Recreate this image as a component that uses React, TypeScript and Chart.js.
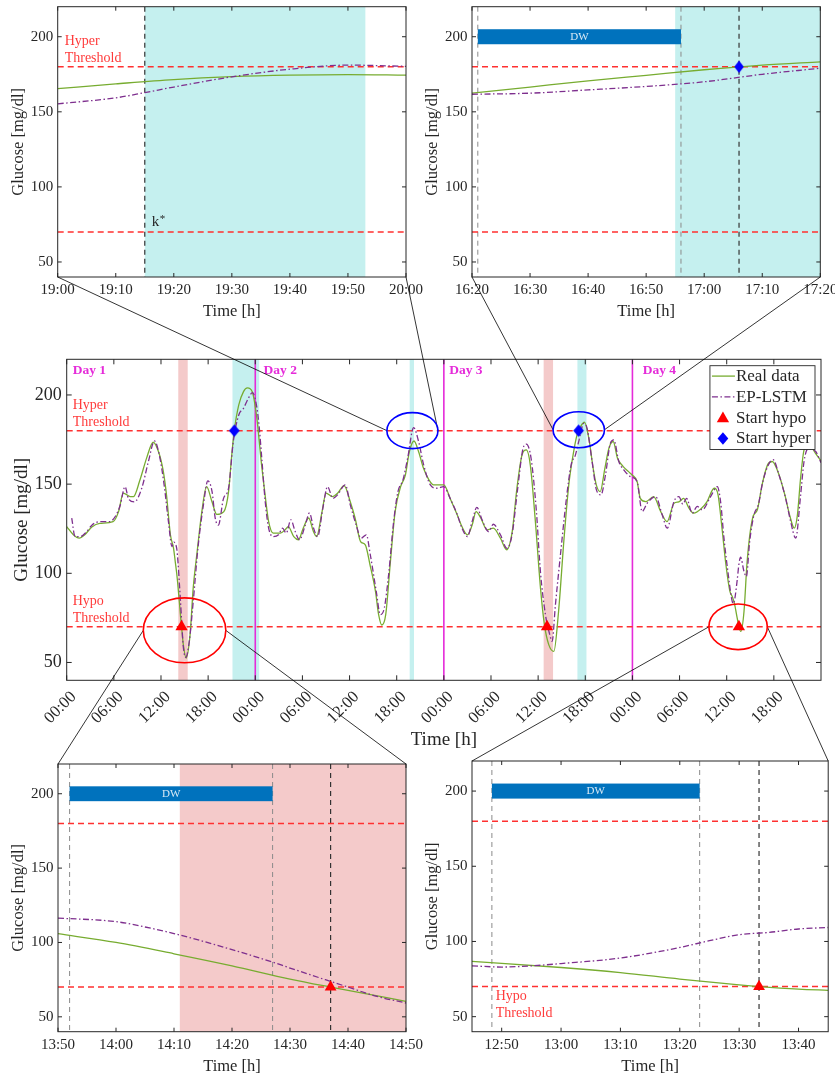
import React, { useEffect, useRef } from "react";
import { Chart, registerables } from "chart.js";

Chart.register(...registerables);

const PAGE_W = 835;
const PAGE_H = 1079;
const SERIF = "'Liberation Serif', 'DejaVu Serif', serif";
const INK = "#262626";
const GREEN = "#77AC30";
const PURPLE = "#7E2F8E";
const RED = "#FF0000";
const THRESH = "#FF3030";
const THRESH_TEXT = "#FF3B3B";
const BLUE = "#0000FF";
const MAGENTA = "#E52BD9";
const CYAN_BAND = "#C5F0EF";
const RED_BAND = "#F4CACA";
const DW_BLUE = "#0072BD";

const HYPER_THRESHOLD = 180;
const HYPO_THRESHOLD = 70;
const GLUCOSE_MIN = 40;
const GLUCOSE_MAX = 220;
const GLUCOSE_TICKS = [50, 100, 150, 200];
const DW_BAR = [195, 205];

// ---- Four-day overview (hours since 00:00 of day 1) ----
const realHours = [
  0, 0.85, 1.6, 2.3, 3.2, 4.2, 5.9, 6.6, 7.2, 8.1, 8.5, 9.3, 10.2, 11.0, 11.7, 12.3, 12.7, 13.2, 13.6,
  13.83, 14.0, 14.17, 14.33, 14.5, 14.62, 14.83, 15.2, 15.7, 16.1, 16.6, 17.2, 17.8, 18.5, 19.1, 20.0,
  20.6, 21.0, 21.33, 21.9, 22.5, 23.0, 23.6, 24.2, 24.8, 25.3, 25.7, 26.3, 27.2, 27.8, 28.2, 28.9, 29.5,
  30.1, 30.8, 31.4, 31.8, 32.5, 33.0, 33.8, 34.5, 35.3, 36.1, 36.7, 37.4, 38.0, 38.6, 39.3, 39.7, 40.1,
  40.6, 41.2, 41.8, 42.5, 43.1, 43.6, 44.2, 44.8, 45.4, 46.1, 46.7, 48.0, 48.8, 49.7, 50.3, 51.0, 51.6,
  52.1, 52.7, 53.5, 54.3, 55.2, 56.0, 56.7, 57.3, 57.95, 58.5, 59.0, 59.65, 60.3, 60.8, 61.35, 62.0,
  62.6, 63.3, 63.9, 64.45, 64.95, 65.4, 65.9, 66.45, 67.0, 67.4, 67.9, 68.5, 69.0, 69.55, 70.1, 70.8,
  71.5, 72.0, 72.6, 73.0, 73.7, 74.7, 75.6, 76.4, 77.3, 77.9, 78.5, 79.2, 79.8, 80.7, 81.5, 82.4, 82.9,
  83.4, 83.9, 84.4, 84.75, 85.0, 85.33, 85.55, 85.8, 86.2, 86.6, 87.3, 87.9, 88.5, 89.2, 89.8, 90.6,
  91.4, 92.0, 92.6, 93.0, 93.4, 93.8, 94.3, 95.3, 96.0,
];
const realGlucose = [
  126.2, 121.6, 119.7, 121.6, 126, 128, 129, 134.6, 145, 143, 143, 152, 165, 173.5, 168, 157, 144, 121.6, 114,
  106, 100, 92.4, 84.3, 75.4, 70, 60.4, 52.5, 65.5, 91.7, 112, 134.6, 148.6, 140, 133, 134.6,
  145.8, 166, 180, 194.4, 201.9, 204, 202, 187, 160.8, 142, 129, 122.5, 122.5, 124.4, 126.2, 120.6, 118.8,
  125.3, 131, 123.4, 120.6, 134.6, 145, 143, 145, 149.2, 140, 131, 117.8, 116, 104.8, 89.8, 76.8, 71,
  76.8, 106.6, 134.6, 148.6, 155, 168, 174.2, 168, 159, 152.4, 149.6, 149.6, 142, 132.8, 126.2, 121.6, 127,
  134.6, 131, 124.4, 125.3, 119.7, 113.2, 123.4, 147.7, 166.4, 169.2, 160.8, 129, 91.7, 71.2, 60, 56.2,
  78.6, 119.7, 149.6, 166.4, 177.6, 182.3, 184.7, 175.7, 159, 149.6, 145.8, 159, 170, 173.9, 164.5, 160,
  157, 155, 151.4, 142, 140.2, 143, 134.6, 129, 139.3, 140, 142, 136.5, 133.7, 136, 140.2, 147.7, 144,
  125.3, 104.8, 90, 86.5, 82.7, 75, 70, 67.4, 78.6, 106.6, 131, 135.6, 149.6, 160.8, 162.7, 156,
  144, 132.8, 125.3, 132.8, 153.3, 168.3, 173, 167.3, 163,
];
const predHours = [
  0.64, 1.06, 1.7, 2.55, 3.2, 4.25, 5.5, 6.2, 6.8, 7.43, 7.85, 8.6, 9.55, 10.4, 11.17, 11.8, 12.4, 12.95,
  13.4, 13.65, 13.83, 14.0, 14.17, 14.33, 14.5, 14.62, 14.83, 15.15, 15.6, 16.1, 16.7, 17.4, 17.96, 18.5,
  18.9, 19.3, 19.96, 20.6, 21.2, 21.9, 22.5, 23.1, 23.65, 24.2, 24.5, 24.8, 25.27, 25.7, 26.3, 26.96,
  27.47, 27.94, 28.53, 29.08, 29.63, 30.36, 30.9, 31.42, 31.93, 32.6, 33.2, 33.88, 34.47, 35.45, 36.09,
  36.85, 37.45, 38.13, 38.64, 39.4, 39.91, 40.42, 40.97, 41.61, 42.16, 42.8, 43.39, 44.16, 44.79, 45.43,
  46.28, 47.13, 47.98, 48.8, 49.7, 50.3, 51.0, 51.6, 52.2, 52.86, 53.7, 54.3, 55.2, 56.04, 56.68, 57.4,
  58.08, 58.5, 59.1, 59.78, 60.29, 60.93, 61.48, 61.78, 62.2, 62.84, 63.6, 64.2, 64.75, 65.17, 65.81,
  66.23, 66.87, 67.42, 68.0, 68.57, 69.2, 69.63, 70.27, 70.9, 71.75, 72.6, 73.24, 73.88, 74.94, 75.79,
  76.43, 77.28, 77.91, 78.42, 78.89, 79.61, 80.25, 80.89, 81.95, 82.8, 83.22, 83.65, 84.2, 84.62, 84.83,
  85.0, 85.33, 85.55, 85.77, 86.2, 86.5, 86.92, 87.47, 88.02, 88.6, 89.3, 89.9, 90.65, 91.5, 92.14,
  92.78, 93.41, 93.84, 94.39, 95.32, 96.0,
];
const predGlucose = [
  131, 120.6, 120.6, 123.4, 127, 129, 129, 132, 138, 148.6, 142, 140, 147.7, 162.7, 174.2, 166, 149.6, 129,
  115, 117.5, 116.4, 114, 106, 95, 83, 74, 59.3, 52.8, 61.8, 84, 114, 138.4, 151.8, 145.8,
  131, 127, 142, 147.7, 173.8, 188.8, 192.5, 198, 201.3, 193, 182, 166, 140, 125.3, 120.6, 121.6,
  125.3, 122.5, 130, 123.4, 118.8, 127, 133.8, 125.3, 120.6, 136.5, 148.6, 142, 144, 149.6, 138.4,
  127, 119.7, 121.6, 110.4, 89.8, 76.8, 80.5, 99.2, 129, 145.8, 152.4, 164.5, 181.7, 173.8, 160.8,
  149.6, 147.7, 148.6, 142, 133, 125.3, 120.6, 129, 137, 130, 123.4, 127.5, 121.6, 114, 121.6, 147.7,
  170, 172.4, 164.5, 134.6, 101, 76.8, 65.6, 61.8, 82.3, 110.4, 142, 160.8, 166.4, 174, 184.1,
  181.3, 162.7, 146.8, 144, 155.2, 173, 174.8, 162.7, 158, 154.2, 151.4, 134.6, 139.3, 143, 132.8,
  125.3, 140.2, 143, 138.8, 142, 133.7, 137.5, 135.6, 143, 148.6, 140.2, 119.7, 99.2, 86, 83,
  85, 96, 105, 109, 101, 98.2, 117.8, 132.8, 138.4, 151.4, 160.8, 163.7, 155.2, 142, 129,
  119.7, 144, 162.7, 170, 168.3, 162,
];

const hypoStartHours = [14.62, 61.13, 85.55];
const hyperStartHours = [21.33, 65.15];
const hypoBandHours = [[14.2, 15.4], [60.7, 61.9]];
const hyperBandHours = [[21.1, 24.5], [43.65, 44.2], [65.0, 66.15]];
const dayBoundaryHours = [24, 48, 72];
const dayNames = ["Day 1", "Day 2", "Day 3", "Day 4"];
const dayNameHours = [0.77, 25.05, 48.68, 73.3];
const overviewTickHours = [0, 6, 12, 18, 24, 30, 36, 42, 48, 54, 60, 66, 72, 78, 84, 90];

// Events picked out on the overview and expanded in the detail panels
const focusCenterHours = [44.0, 65.17, 15.0, 85.45];
const focusCenterGlucose = [180, 180.5, 68, 70];
const focusHalfWidthHours = [3.25, 3.27, 5.25, 3.72];
const focusHalfHeightGlucose = [10.1, 10.1, 18.2, 12.8];
const focusColors = [BLUE, BLUE, RED, RED];
const focusPanels = ["topLeft", "topRight", "bottomLeft", "bottomRight"];

// ---- Detail panels (minutes after midnight of the event day) ----
// Day 2, 19:00-20:00
const tlRealMin = [1140, 1150, 1160, 1170, 1180, 1190, 1200];
const tlRealGlucose = [165.4, 168.6, 171.5, 173.4, 174.4, 174.8, 174.4];
const tlPredMin = [1140, 1150, 1155, 1160, 1170, 1180, 1190, 1200];
const tlPredGlucose = [155.3, 159.3, 162.8, 166.5, 173.3, 178.4, 181.1, 180.3];
const tlKStar = 1155;
const tlHyperBand = [1155, 1193];

// Day 3, 16:20-17:20
const trRealMin = [980, 990, 1000, 1010, 1020, 1030, 1040];
const trRealGlucose = [162.4, 166.5, 170.6, 174.3, 178.0, 181.1, 183.3];
const trPredMin = [980, 990, 1000, 1010, 1020, 1030, 1040];
const trPredGlucose = [161.7, 162.4, 164.6, 166.9, 170.0, 175.0, 179.0];
const trWindow = [981, 1016];
const trEvent = 1026;
const trHyperBand = [1015, 1045];

// Day 1, 13:50-14:50
const blRealMin = [830, 840, 850, 860, 870, 877, 880, 890];
const blRealGlucose = [105.9, 100, 92.4, 84.3, 75.4, 70, 67.8, 60.4];
const blPredMin = [830, 840, 845, 850, 860, 867, 870, 877, 880, 885, 890];
const blPredGlucose = [116.4, 114, 110.4, 106, 95.2, 86.8, 82.8, 73.8, 70, 63.7, 59.3];
const blWindow = [832, 867];
const blEvent = 877;
const blHypoBand = [851, 895];

// Day 4, 12:45-13:45
const brRealMin = [765, 780, 790, 800, 810, 813.35, 820, 825];
const brRealGlucose = [86.7, 82.7, 79.3, 75, 71.1, 70, 68.3, 67.5];
const brPredMin = [765, 770, 775, 780, 790, 800, 805, 810, 815, 820, 825];
const brPredGlucose = [83.8, 83, 83.8, 85.3, 89, 96, 100.5, 104.5, 106, 108.3, 109.3];
const brWindow = [768.35, 803.35];
const brEvent = 813.35;

type XY = { x: number; y: number };
const zip = (xs: number[], ys: number[]): XY[] => xs.map((x, i) => ({ x, y: ys[i] }));
const pad2 = (n: number) => String(n).padStart(2, "0");
const clock = (min: number) => `${pad2(Math.floor(min / 60) % 24)}:${pad2(Math.round(min % 60))}`;
const hourClock = (h: number) => `${pad2(h % 24)}:00`;
const range = (a: number, b: number, step: number) => {
  const out: number[] = [];
  for (let v = a; v <= b + 1e-9; v += step) out.push(v);
  return out;
};

interface PanelSpec {
  rect: [number, number, number, number];
  xMin: number;
  xMax: number;
  xTicks: number[];
  xLabel: (v: number) => string;
  rotation: number;
  xTickFont: number;
  yTickFont: number;
  titleFont: number;
  yAxisWidth: number;
  xAxisHeight: number;
  xTickPad: number;
  xLabelShift: number;
  yTickPad: number;
  tickLen: number;
  real: XY[];
  pred: XY[];
  hypoMarks: XY[];
  hyperMarks: XY[];
  triR: number;
  diaW: number;
  diaH: number;
  bands: { from: number; to: number; color: string }[];
  vlines: { x: number; color: string; dash: number[]; width: number }[];
  window?: number[];
  thresholdNotes: { x: number; level: number; lines: string[]; below: boolean }[];
  notes: { x: number; y: number; text: string; sup?: string }[];
  days?: { x: number; text: string }[];
  legend?: boolean;
}

function traceDiamond(ctx: CanvasRenderingContext2D, x: number, y: number, w: number, h: number) {
  ctx.beginPath();
  ctx.moveTo(x, y - h / 2);
  ctx.lineTo(x + w / 2, y);
  ctx.lineTo(x, y + h / 2);
  ctx.lineTo(x - w / 2, y);
  ctx.closePath();
}

// MATLAB-style diamond marker: a little taller than it is wide
function diamondSprite(w: number, h: number, color: string) {
  const c = document.createElement("canvas");
  c.width = Math.ceil(w) + 2;
  c.height = Math.ceil(h) + 2;
  const ctx = c.getContext("2d")!;
  ctx.fillStyle = color;
  traceDiamond(ctx, c.width / 2, c.height / 2, w, h);
  ctx.fill();
  return c;
}

function drawTriangle(ctx: CanvasRenderingContext2D, x: number, y: number, r: number) {
  ctx.beginPath();
  for (let i = 0; i < 3; i++) {
    const a = (i * 2 * Math.PI) / 3;
    const px = x + Math.sin(a) * r;
    const py = y - Math.cos(a) * r;
    if (i === 0) ctx.moveTo(px, py);
    else ctx.lineTo(px, py);
  }
  ctx.closePath();
  ctx.fill();
}

function decorations(spec: PanelSpec) {
  return {
    id: "decor",
    beforeDatasetsDraw(chart: any) {
      const { ctx, chartArea: a } = chart;
      const xs = chart.scales.x;
      const ys = chart.scales.y;
      ctx.save();
      ctx.beginPath();
      ctx.rect(a.left, a.top, a.right - a.left, a.bottom - a.top);
      ctx.clip();
      for (const b of spec.bands) {
        const x0 = xs.getPixelForValue(b.from);
        const x1 = xs.getPixelForValue(b.to);
        ctx.fillStyle = b.color;
        ctx.fillRect(x0, a.top, x1 - x0, a.bottom - a.top);
      }
      for (const v of spec.vlines) {
        const px = xs.getPixelForValue(v.x);
        ctx.beginPath();
        ctx.setLineDash(v.dash);
        ctx.strokeStyle = v.color;
        ctx.lineWidth = v.width;
        ctx.moveTo(px, a.top);
        ctx.lineTo(px, a.bottom);
        ctx.stroke();
      }
      ctx.setLineDash([]);
      if (spec.window) {
        const x0 = xs.getPixelForValue(spec.window[0]);
        const x1 = xs.getPixelForValue(spec.window[1]);
        const y0 = ys.getPixelForValue(DW_BAR[1]);
        const y1 = ys.getPixelForValue(DW_BAR[0]);
        ctx.fillStyle = DW_BLUE;
        ctx.fillRect(x0, y0, x1 - x0, y1 - y0);
        ctx.fillStyle = "rgba(255,255,255,0.85)";
        ctx.font = `11px ${SERIF}`;
        ctx.textAlign = "center";
        ctx.textBaseline = "middle";
        ctx.fillText("DW", (x0 + x1) / 2, (y0 + y1) / 2 + 0.5);
      }
      ctx.restore();
    },
    afterDatasetsDraw(chart: any) {
      const { ctx, chartArea: a } = chart;
      const xs = chart.scales.x;
      const ys = chart.scales.y;
      ctx.save();
      // threshold captions
      ctx.font = `14px ${SERIF}`;
      ctx.fillStyle = THRESH_TEXT;
      ctx.textAlign = "left";
      ctx.textBaseline = "middle";
      for (const t of spec.thresholdNotes) {
        const px = xs.getPixelForValue(t.x);
        const py = ys.getPixelForValue(t.level);
        t.lines.forEach((line, i) => {
          const dy = t.below ? 10 + i * 17 : -8.5 - (t.lines.length - 1 - i) * 16.7;
          ctx.fillText(line, px, py + dy);
        });
      }
      // free notes
      for (const n of spec.notes) {
        const px = xs.getPixelForValue(n.x);
        const py = ys.getPixelForValue(n.y);
        ctx.fillStyle = INK;
        ctx.font = `15px ${SERIF}`;
        ctx.fillText(n.text, px, py);
        if (n.sup) {
          const w = ctx.measureText(n.text).width;
          ctx.font = `11px ${SERIF}`;
          ctx.fillText(n.sup, px + w + 0.5, py - 3);
        }
      }
      // day names
      if (spec.days) {
        ctx.font = `bold 13.5px ${SERIF}`;
        ctx.fillStyle = MAGENTA;
        for (const d of spec.days) {
          ctx.fillText(d.text, xs.getPixelForValue(d.x), a.top + 11.5);
        }
      }
      // legend
      if (spec.legend) {
        const entries = chart.data.datasets.filter((d: any) => d.label);
        ctx.font = `17px ${SERIF}`;
        const textW = Math.max(...entries.map((d: any) => ctx.measureText(d.label).width));
        const boxW = 26 + textW + 4;
        const rowH = 20.8;
        const boxH = rowH * entries.length + 0.6;
        const right = a.right - 6;
        const left = right - boxW;
        const top = a.top + 6.4;
        ctx.fillStyle = "#fff";
        ctx.fillRect(left, top, boxW, boxH);
        ctx.strokeStyle = INK;
        ctx.lineWidth = 0.9;
        ctx.strokeRect(left, top, boxW, boxH);
        entries.forEach((d: any, i: number) => {
          const cy = top + 10.4 + i * rowH;
          if (d.showLine === false) {
            ctx.fillStyle = d.backgroundColor;
            if (d.pointStyle === "triangle") drawTriangle(ctx, left + 13, cy + 1, 7.1);
            else {
              traceDiamond(ctx, left + 13, cy, spec.diaW, spec.diaH);
              ctx.fill();
            }
          } else {
            ctx.beginPath();
            ctx.setLineDash(d.borderDash || []);
            ctx.strokeStyle = d.borderColor;
            ctx.lineWidth = d.borderWidth;
            ctx.moveTo(left + 2, cy);
            ctx.lineTo(left + 25, cy);
            ctx.stroke();
            ctx.setLineDash([]);
          }
          ctx.fillStyle = INK;
          ctx.textBaseline = "middle";
          ctx.fillText(d.label, left + 26, cy + 0.5);
        });
      }
      // box and inward ticks
      ctx.strokeStyle = INK;
      ctx.lineWidth = 1;
      ctx.setLineDash([]);
      ctx.strokeRect(a.left, a.top, a.right - a.left, a.bottom - a.top);
      ctx.beginPath();
      for (const v of spec.xTicks) {
        const px = xs.getPixelForValue(v);
        ctx.moveTo(px, a.bottom);
        ctx.lineTo(px, a.bottom - spec.tickLen);
        ctx.moveTo(px, a.top);
        ctx.lineTo(px, a.top + spec.tickLen);
      }
      for (const v of GLUCOSE_TICKS) {
        const py = ys.getPixelForValue(v);
        ctx.moveTo(a.left, py);
        ctx.lineTo(a.left + spec.tickLen, py);
        ctx.moveTo(a.right, py);
        ctx.lineTo(a.right - spec.tickLen, py);
      }
      ctx.stroke();
      ctx.restore();
    },
  };
}

function buildChart(canvas: HTMLCanvasElement, spec: PanelSpec) {
  const [L, T, R, B] = spec.rect;
  const lineBase = { pointRadius: 0, cubicInterpolationMode: "monotone", fill: false };
  const thresholdLine = (level: number) => ({
    ...lineBase,
    label: "",
    data: [
      { x: spec.xMin, y: level },
      { x: spec.xMax, y: level },
    ],
    borderColor: THRESH,
    borderWidth: 1.5,
    borderDash: [6, 4],
    order: 4,
  });
  const datasets: any[] = [
    { ...lineBase, label: "Real data", data: spec.real, borderColor: GREEN, borderWidth: 1.3, order: 3 },
    {
      ...lineBase,
      label: "EP-LSTM",
      data: spec.pred,
      borderColor: PURPLE,
      borderWidth: 1.3,
      borderDash: [6, 2.5, 1.5, 2.5],
      order: 2,
    },
    {
      label: "Start hypo",
      data: spec.hypoMarks,
      showLine: false,
      pointStyle: "triangle",
      pointRadius: spec.triR,
      backgroundColor: RED,
      borderColor: RED,
      borderWidth: 0,
      order: 0,
    },
    {
      label: "Start hyper",
      data: spec.hyperMarks,
      showLine: false,
      pointStyle: diamondSprite(spec.diaW, spec.diaH, BLUE),
      pointRadius: spec.diaH / 2,
      backgroundColor: BLUE,
      borderColor: BLUE,
      borderWidth: 0,
      order: 0,
    },
    thresholdLine(HYPER_THRESHOLD),
    thresholdLine(HYPO_THRESHOLD),
  ];

  return new Chart(canvas, {
    type: "line",
    data: { datasets },
    plugins: [decorations(spec)],
    options: {
      responsive: false,
      animation: false,
      events: [],
      layout: {
        padding: {
          left: L - spec.yAxisWidth,
          top: T,
          right: PAGE_W - R,
          bottom: PAGE_H - B - spec.xAxisHeight,
        },
      },
      plugins: { legend: { display: false }, tooltip: { enabled: false } },
      scales: {
        x: {
          type: "linear",
          min: spec.xMin,
          max: spec.xMax,
          grid: { display: false, drawTicks: false },
          border: { display: false },
          ticks: {
            autoSkip: false,
            maxRotation: spec.rotation,
            minRotation: spec.rotation,
            padding: spec.xTickPad,
            labelOffset: spec.xLabelShift,
            color: INK,
            font: { family: SERIF, size: spec.xTickFont },
            callback: (v: any) => spec.xLabel(Number(v)),
          },
          title: {
            display: true,
            text: "Time [h]",
            color: INK,
            font: { family: SERIF, size: spec.titleFont },
            padding: { top: 4, bottom: 4 },
          },
          afterBuildTicks: (s: any) => {
            s.ticks = spec.xTicks.map((value) => ({ value }));
          },
          afterFit: (s: any) => {
            s.height = spec.xAxisHeight;
            s.paddingLeft = 0;
            s.paddingRight = 0;
            s.paddingTop = 0;
            s.paddingBottom = 0;
          },
        },
        y: {
          type: "linear",
          min: GLUCOSE_MIN,
          max: GLUCOSE_MAX,
          grid: { display: false, drawTicks: false },
          border: { display: false },
          ticks: {
            padding: spec.yTickPad,
            color: INK,
            font: { family: SERIF, size: spec.yTickFont },
          },
          title: {
            display: true,
            text: "Glucose [mg/dl]",
            color: INK,
            font: { family: SERIF, size: spec.titleFont },
            padding: { top: 4, bottom: 4 },
          },
          afterBuildTicks: (s: any) => {
            s.ticks = GLUCOSE_TICKS.map((value) => ({ value }));
          },
          afterFit: (s: any) => {
            s.width = spec.yAxisWidth;
            s.paddingLeft = 0;
            s.paddingRight = 0;
            s.paddingTop = 0;
            s.paddingBottom = 0;
          },
        },
      },
    } as any,
  });
}

const detailBase = {
  rotation: 0,
  xTickFont: 15,
  yTickFont: 15,
  titleFont: 16.5,
  yAxisWidth: 53.3,
  xAxisHeight: 48.6,
  xTickPad: 4,
  xLabelShift: 0,
  yTickPad: 4.5,
  tickLen: 4,
  triR: 6.8,
  diaW: 9.5,
  diaH: 12.5,
  xLabel: clock,
};

const greyDash = (x: number) => ({ x, color: "#8a8a8a", dash: [5, 4], width: 1 });
const blackDash = (x: number) => ({ x, color: "#333333", dash: [5, 4], width: 1.2 });

const overviewSpec: PanelSpec = {
  rect: [66.7, 359.3, 821, 680.3],
  xMin: 0,
  xMax: 96,
  xTicks: overviewTickHours,
  xLabel: hourClock,
  rotation: 45,
  xTickFont: 16.5,
  yTickFont: 18,
  titleFont: 19,
  yAxisWidth: 60.4,
  xAxisHeight: 75,
  xTickPad: 7,
  xLabelShift: 7,
  yTickPad: 5,
  tickLen: 5,
  real: zip(realHours, realGlucose),
  pred: zip(predHours, predGlucose),
  hypoMarks: hypoStartHours.map((x) => ({ x, y: HYPO_THRESHOLD })),
  hyperMarks: hyperStartHours.map((x) => ({ x, y: HYPER_THRESHOLD })),
  triR: 7.1,
  diaW: 10.7,
  diaH: 12.5,
  bands: [
    ...hypoBandHours.map(([from, to]) => ({ from, to, color: RED_BAND })),
    ...hyperBandHours.map(([from, to]) => ({ from, to, color: CYAN_BAND })),
  ],
  vlines: dayBoundaryHours.map((x) => ({ x, color: MAGENTA, dash: [], width: 1.6 })),
  thresholdNotes: [
    { x: 0.77, level: HYPER_THRESHOLD, lines: ["Hyper", "Threshold"], below: false },
    { x: 0.77, level: HYPO_THRESHOLD, lines: ["Hypo", "Threshold"], below: false },
  ],
  notes: [],
  days: dayNames.map((text, i) => ({ x: dayNameHours[i], text })),
  legend: true,
};

const topLeftSpec: PanelSpec = {
  ...detailBase,
  rect: [57.7, 6.7, 406, 277],
  xMin: 1140,
  xMax: 1200,
  xTicks: range(1140, 1200, 10),
  real: zip(tlRealMin, tlRealGlucose),
  pred: zip(tlPredMin, tlPredGlucose),
  hypoMarks: [],
  hyperMarks: [],
  bands: [{ from: tlHyperBand[0], to: tlHyperBand[1], color: CYAN_BAND }],
  vlines: [blackDash(tlKStar)],
  thresholdNotes: [{ x: 1141.2, level: HYPER_THRESHOLD, lines: ["Hyper", "Threshold"], below: false }],
  notes: [{ x: tlKStar + 1.2, y: 76.5, text: "k", sup: "*" }],
};

const topRightSpec: PanelSpec = {
  ...detailBase,
  rect: [472, 6.7, 820.3, 277],
  xMin: 980,
  xMax: 1040,
  xTicks: range(980, 1040, 10),
  real: zip(trRealMin, trRealGlucose),
  pred: zip(trPredMin, trPredGlucose),
  hypoMarks: [],
  hyperMarks: [{ x: trEvent, y: HYPER_THRESHOLD }],
  bands: [{ from: trHyperBand[0], to: trHyperBand[1], color: CYAN_BAND }],
  vlines: [greyDash(trWindow[0]), greyDash(trWindow[1]), blackDash(trEvent)],
  window: trWindow,
  thresholdNotes: [],
  notes: [],
};

const bottomLeftSpec: PanelSpec = {
  ...detailBase,
  rect: [58, 764, 406, 1031.7],
  xMin: 830,
  xMax: 890,
  xTicks: range(830, 890, 10),
  real: zip(blRealMin, blRealGlucose),
  pred: zip(blPredMin, blPredGlucose),
  hypoMarks: [{ x: blEvent, y: HYPO_THRESHOLD }],
  hyperMarks: [],
  bands: [{ from: blHypoBand[0], to: blHypoBand[1], color: RED_BAND }],
  vlines: [greyDash(blWindow[0]), greyDash(blWindow[1]), blackDash(blEvent)],
  window: blWindow,
  thresholdNotes: [],
  notes: [],
};

const bottomRightSpec: PanelSpec = {
  ...detailBase,
  rect: [472, 761, 830, 1031.7],
  xMin: 765,
  xMax: 825,
  xTicks: range(770, 820, 10),
  real: zip(brRealMin, brRealGlucose),
  pred: zip(brPredMin, brPredGlucose),
  hypoMarks: [{ x: brEvent, y: HYPO_THRESHOLD }],
  hyperMarks: [],
  bands: [],
  vlines: [greyDash(brWindow[0]), greyDash(brWindow[1]), blackDash(brEvent)],
  window: brWindow,
  thresholdNotes: [{ x: 769, level: HYPO_THRESHOLD, lines: ["Hypo", "Threshold"], below: true }],
  notes: [],
};

function drawFocusLinks(canvas: HTMLCanvasElement, charts: Record<string, any>) {
  const ctx = canvas.getContext("2d")!;
  ctx.clearRect(0, 0, canvas.width, canvas.height);
  const main = charts.overview;
  const xs = main.scales.x;
  const ys = main.scales.y;
  focusCenterHours.forEach((h, i) => {
    const cx = xs.getPixelForValue(h);
    const cy = ys.getPixelForValue(focusCenterGlucose[i]);
    const rx = xs.getPixelForValue(h + focusHalfWidthHours[i]) - cx;
    const ry = cy - ys.getPixelForValue(focusCenterGlucose[i] + focusHalfHeightGlucose[i]);
    const panel = charts[focusPanels[i]].chartArea;
    const edgeY = panel.bottom < cy ? panel.bottom : panel.top;
    ctx.beginPath();
    ctx.strokeStyle = "#000";
    ctx.lineWidth = 0.8;
    ctx.moveTo(cx - rx, cy);
    ctx.lineTo(panel.left, edgeY);
    ctx.moveTo(cx + rx, cy);
    ctx.lineTo(panel.right, edgeY);
    ctx.stroke();
    ctx.beginPath();
    ctx.strokeStyle = focusColors[i];
    ctx.lineWidth = 1.6;
    ctx.ellipse(cx, cy, rx, ry, 0, 0, Math.PI * 2);
    ctx.stroke();
  });
}

export default function App() {
  const overviewRef = useRef<HTMLCanvasElement>(null);
  const topLeftRef = useRef<HTMLCanvasElement>(null);
  const topRightRef = useRef<HTMLCanvasElement>(null);
  const bottomLeftRef = useRef<HTMLCanvasElement>(null);
  const bottomRightRef = useRef<HTMLCanvasElement>(null);
  const linksRef = useRef<HTMLCanvasElement>(null);

  useEffect(() => {
    const charts: Record<string, any> = {
      topLeft: buildChart(topLeftRef.current!, topLeftSpec),
      topRight: buildChart(topRightRef.current!, topRightSpec),
      overview: buildChart(overviewRef.current!, overviewSpec),
      bottomLeft: buildChart(bottomLeftRef.current!, bottomLeftSpec),
      bottomRight: buildChart(bottomRightRef.current!, bottomRightSpec),
    };
    drawFocusLinks(linksRef.current!, charts);
    return () => {
      Object.values(charts).forEach((c) => c.destroy());
    };
  }, []);

  const layer: React.CSSProperties = {
    position: "absolute",
    left: 0,
    top: 0,
    width: PAGE_W,
    height: PAGE_H,
  };

  return (
    <div style={{ ...layer, background: "#fff", overflow: "hidden" }}>
      <canvas ref={topLeftRef} width={PAGE_W} height={PAGE_H} style={layer} />
      <canvas ref={topRightRef} width={PAGE_W} height={PAGE_H} style={layer} />
      <canvas ref={overviewRef} width={PAGE_W} height={PAGE_H} style={layer} />
      <canvas ref={bottomLeftRef} width={PAGE_W} height={PAGE_H} style={layer} />
      <canvas ref={bottomRightRef} width={PAGE_W} height={PAGE_H} style={layer} />
      <canvas ref={linksRef} width={PAGE_W} height={PAGE_H} style={layer} />
    </div>
  );
}
